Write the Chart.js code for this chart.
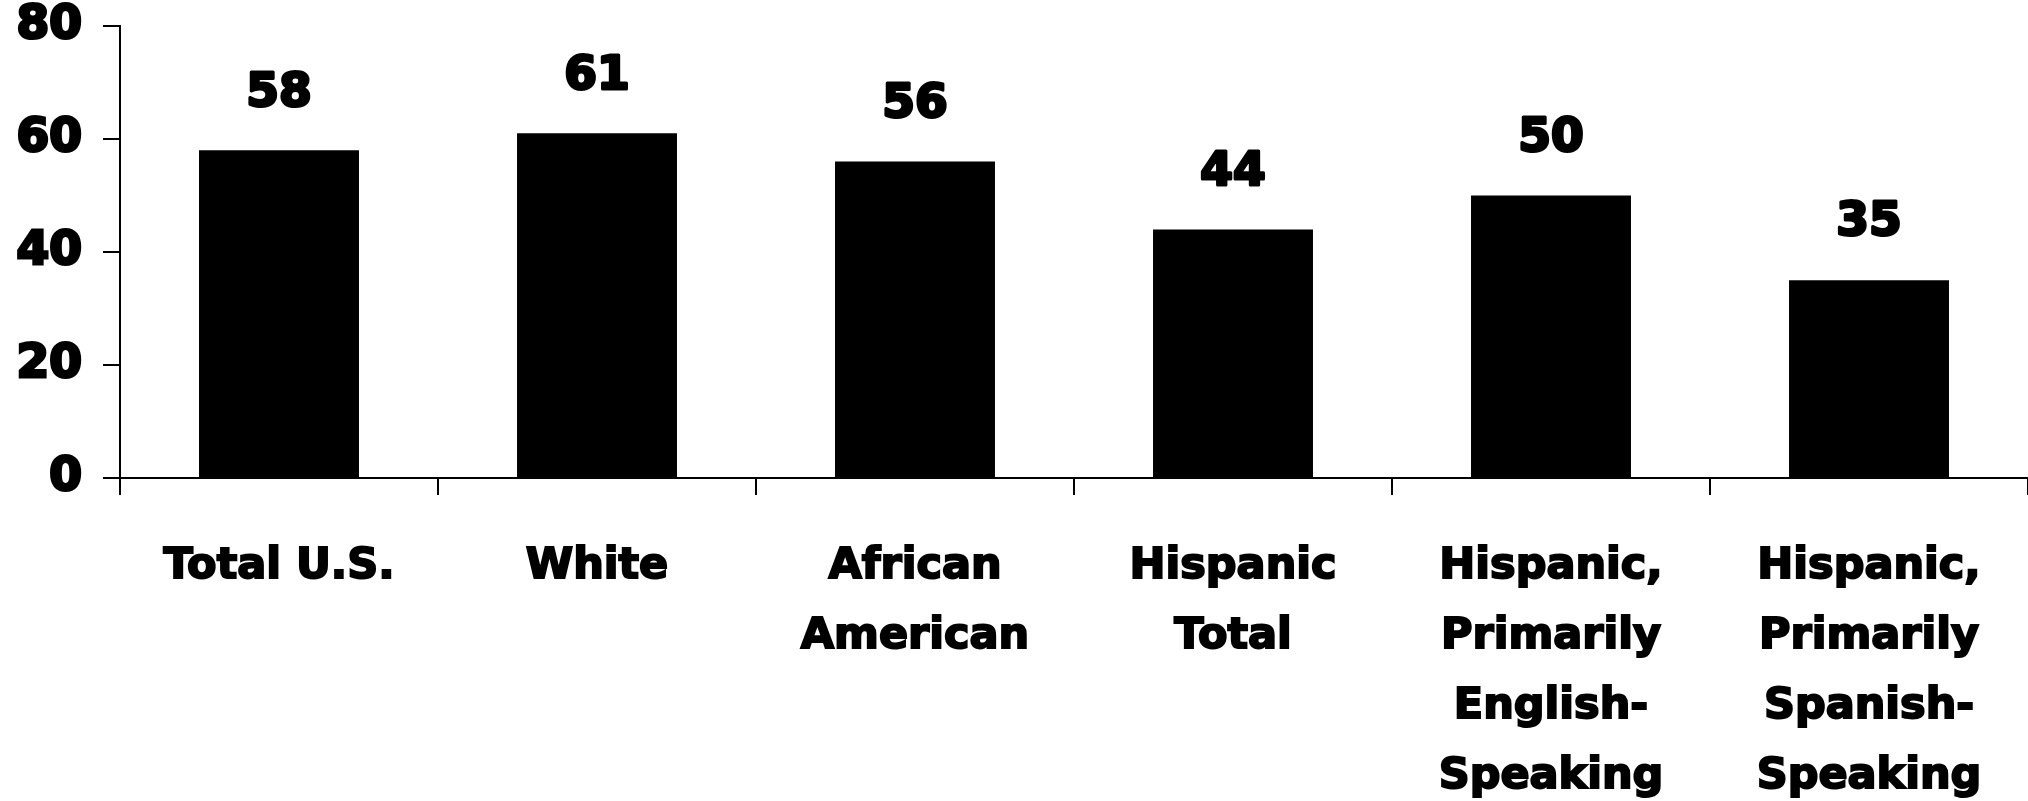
<!DOCTYPE html>
<html>
<head>
<meta charset="utf-8">
<script src="https://cdn.jsdelivr.net/npm/chart.js@4/dist/chart.umd.min.js"></script>
<style>
  html, body { margin: 0; padding: 0; background: #fff; }
  #wrap { width: 2028px; height: 801px; position: relative; }
</style>
</head>
<body>
<div id="wrap"><canvas id="barChart"></canvas></div>
<script>
// data
const categories = [
    ['Total U.S.'],
    ['White'],
    ['African', 'American'],
    ['Hispanic', 'Total'],
    ['Hispanic,', 'Primarily', 'English-', 'Speaking'],
    ['Hispanic,', 'Primarily', 'Spanish-', 'Speaking']
];
const values = [58, 61, 56, 44, 50, 35];
const yTicks = [0, 20, 40, 60, 80];

const FONT = "'DejaVu Sans', sans-serif";

// draw the number above each bar (stroke makes the digits heavier)
const valueLabels = {
    id: 'valueLabels',
    afterDatasetsDraw(chart) {
        const ctx = chart.ctx;
        const meta = chart.getDatasetMeta(0);
        ctx.save();
        ctx.font = 'bold 47px ' + FONT;
        ctx.fillStyle = '#000';
        ctx.strokeStyle = '#000';
        ctx.lineWidth = 3;
        ctx.lineJoin = 'round';
        ctx.textAlign = 'center';
        ctx.textBaseline = 'middle';
        meta.data.forEach((bar, i) => {
            ctx.strokeText(String(values[i]), bar.x, bar.y - 57);
            ctx.fillText(String(values[i]), bar.x, bar.y - 57);
        });
        ctx.restore();
    }
};

document.addEventListener('DOMContentLoaded', function() {
    const ctx = document.getElementById('barChart');
    new Chart(ctx.getContext('2d'), {
        type: 'bar',
        data: {
            labels: categories,
            datasets: [{
                data: values,
                backgroundColor: '#000',
                borderWidth: 0,
                barPercentage: 0.503,
                categoryPercentage: 1
            }]
        },
        options: {
            responsive: true,
            maintainAspectRatio: false,
            animation: false,
            layout: { padding: 0 },
            scales: {
                x: {
                    grid: {
                        offset: true,
                        drawOnChartArea: false,
                        drawTicks: true,
                        tickLength: 17,
                        color: '#000',
                        lineWidth: 2
                    },
                    border: { display: true, color: '#000', width: 2 },
                    ticks: {
                        color: '#000',
                        padding: 37,
                        maxRotation: 0,
                        autoSkip: false,
                        textStrokeColor: '#000',
                        textStrokeWidth: 2,
                        font: { family: FONT, weight: 'bold', size: 43, lineHeight: 70 / 43 }
                    },
                    afterFit(scale) { scale.height = 323; }
                },
                y: {
                    min: 0,
                    max: 80,
                    afterBuildTicks(scale) {
                        scale.ticks = yTicks.map(v => ({ value: v }));
                    },
                    grid: {
                        drawOnChartArea: false,
                        drawTicks: true,
                        tickLength: 17,
                        color: '#000',
                        lineWidth: 2
                    },
                    border: { display: true, color: '#000', width: 2 },
                    ticks: {
                        color: '#000',
                        padding: 21,
                        textStrokeColor: '#000',
                        textStrokeWidth: 3,
                        font: { family: FONT, weight: 'bold', size: 47, lineHeight: 1 }
                    },
                    afterFit(scale) {
                        scale.width = 120;
                        scale.paddingTop = 26;
                    }
                }
            },
            plugins: {
                legend: { display: false },
                tooltip: { enabled: false }
            }
        },
        plugins: [valueLabels]
    });
});
</script>
</body>
</html>
